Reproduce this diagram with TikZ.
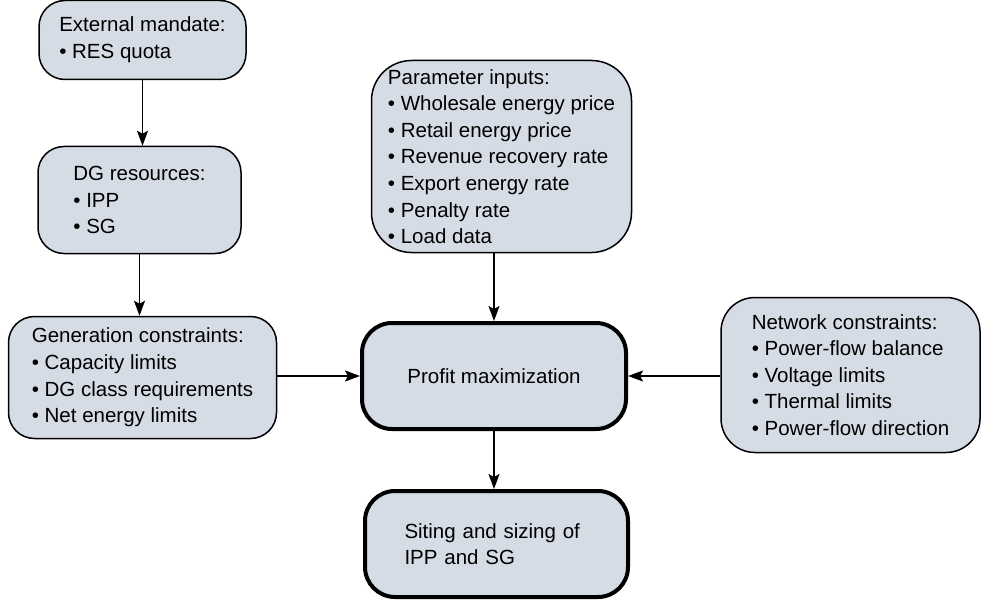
\documentclass[tikz,border=0pt]{standalone}
\usepackage{fontspec}
\setmainfont{Liberation Sans}
\usetikzlibrary{arrows.meta}
\definecolor{boxfill}{RGB}{214,220,229}
\begin{document}
\begin{tikzpicture}[x=0.5pt,y=-0.5pt,font=\fontsize{10.25}{13.3}\selectfont,
    box/.style={draw,line width=0.75pt,fill=boxfill,rounded corners=13pt,align=left,inner sep=0pt},
    mainbox/.style={box,line width=2pt,rounded corners=15pt},
    arr/.style={-{Stealth[length=7.5pt,width=5.5pt,inset=1.5pt]},line width=0.75pt}]
  \useasboundingbox (0,0) rectangle (983,604);

  \node[box,minimum width=103.5pt,minimum height=39.5pt] (mandate) at (142.5,40) {External mandate:\\• RES quota};

  \node[box,minimum width=101.5pt,minimum height=53.5pt] (dgres) at (139.5,200) {DG resources:\\• IPP\\• SG};

  \node[box,minimum width=134pt,minimum height=61pt] (gencon) at (142.5,377.5) {Generation constraints:\\• Capacity limits\\• DG class requirements\\• Net energy limits};

  \node[box,rounded corners=20pt,minimum width=130pt,minimum height=96pt] (param) at (501.5,156.5) {Parameter inputs:\\• Wholesale energy price\\• Retail energy price\\• Revenue recovery rate\\• Export energy rate\\• Penalty rate\\• Load data};

  \node[mainbox,minimum width=132pt,minimum height=53pt] (profit) at (494,376) {Profit maximization};

  \node[mainbox,text width=92pt,minimum width=131.5pt,minimum height=53pt] (siting) at (496.5,544) {Siting and sizing of\\IPP and SG};

  \node[box,rounded corners=17pt,minimum width=129.5pt,minimum height=77.5pt] (network) at (850.5,375) {Network constraints:\\• Power-flow balance\\• Voltage limits\\• Thermal limits\\• Power-flow direction};

  % connectors
  \draw[arr] (mandate.south) -- (mandate.south |- dgres.north);
  \draw[arr] (dgres.south) -- (dgres.south |- gencon.north);
  \draw[arr] (param.south -| profit.north) -- (profit.north);
  \draw[arr] (gencon.east |- profit.west) -- (profit.west);
  \draw[arr] (network.west |- profit.east) -- (profit.east);
  \draw[arr] (profit.south) -- (profit.south |- siting.north);
\end{tikzpicture}
\end{document}
